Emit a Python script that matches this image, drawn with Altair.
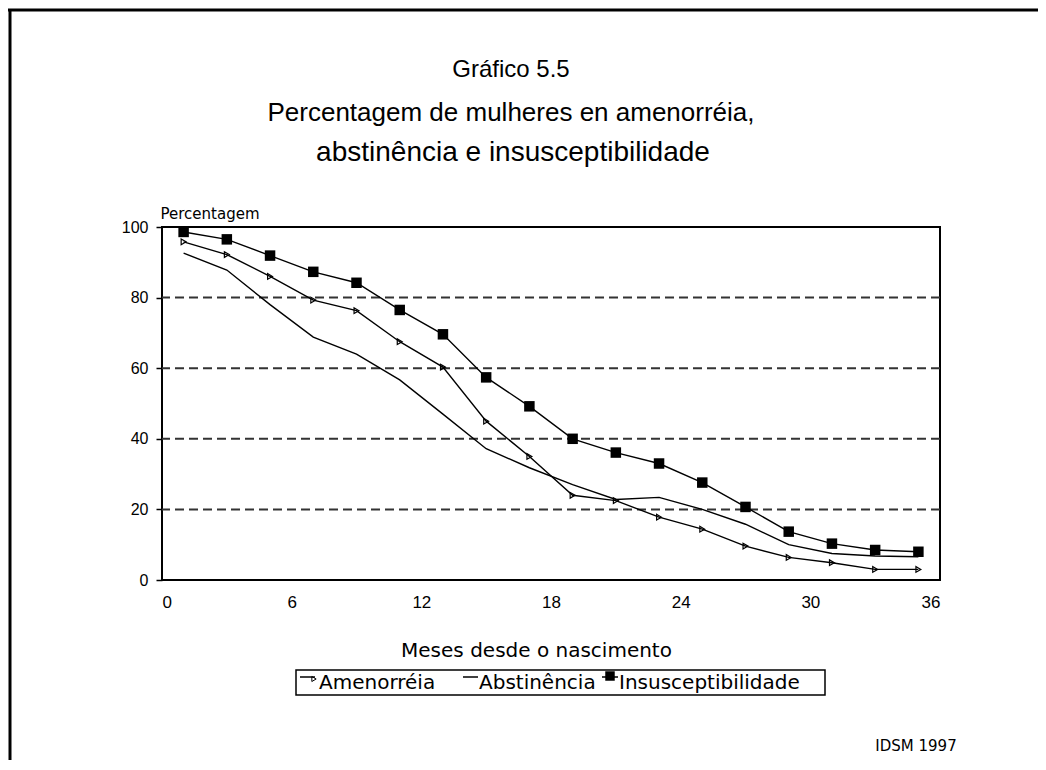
import altair as alt
import pandas as pd

FONT = "Liberation Sans"
SMALL = "DejaVu Sans"

months = [1, 3, 5, 7, 9, 11, 13, 15, 17, 19, 21, 23, 25, 27, 29, 31, 33, 35]
amenorreia = [95.8, 92.2, 86.0, 79.3, 76.3, 67.5, 60.3, 45.0, 35.0, 24.0, 22.5, 17.8, 14.4, 9.6, 6.4, 4.9, 3.0, 3.0]
abstinencia = [92.6, 87.8, 78.0, 68.8, 64.0, 56.7, 47.0, 37.2, 31.8, 27.0, 22.8, 23.4, 20.0, 15.8, 10.0, 7.5, 6.8, 6.6]
insusceptibilidade = [98.6, 96.5, 91.9, 87.3, 84.2, 76.5, 69.6, 57.4, 49.2, 40.0, 36.1, 33.0, 27.6, 20.7, 13.7, 10.3, 8.5, 8.0]

series_names = ["Amenorréia", "Abstinência", "Insusceptibilidade"]
x_ticks = [0, 6, 12, 18, 24, 30, 36]
y_ticks = [0, 20, 40, 60, 80, 100]
grid_vals = [20, 40, 60, 80]

title_lines = ["Gráfico 5.5", "Percentagem de mulheres en amenorréia,", "abstinência e insusceptibilidade"]
y_title = "Percentagem"
x_title = "Meses desde o nascimento"
source = "IDSM 1997"

rows = []
for name, vals in zip(series_names, [amenorreia, abstinencia, insusceptibilidade]):
    for m, v in zip(months, vals):
        rows.append({"mes": m, "pct": v, "serie": name})
df = pd.DataFrame(rows)
grid_df = pd.DataFrame({"v": grid_vals})
one = pd.DataFrame({"k": [0]})

W, H = 778, 353

xs = alt.Scale(domain=[0, 36], nice=False)
ys = alt.Scale(domain=[0, 100], nice=False)

x_enc = alt.X("mes:Q", scale=xs, axis=alt.Axis(
    values=x_ticks, ticks=False, domain=False, grid=False,
    labelFontSize=17, labelFont=FONT, labelColor="black", labelPadding=14,
    title=x_title, titleFont=SMALL, titleFontSize=20, titleFontWeight="normal",
    titleColor="black", titleX=374, titleY=70, titleBaseline="middle", titleAlign="center"))
y_enc = alt.Y("pct:Q", scale=ys, axis=alt.Axis(
    values=y_ticks, domain=False, grid=False, tickSize=6, tickColor="black", tickWidth=1.5,
    labelFontSize=16, labelFont=FONT, labelColor="black", labelPadding=8,
    title=y_title, titleFont=SMALL, titleFontSize=15, titleFontWeight="normal",
    titleColor="black", titleAngle=0, titleX=-2, titleY=-14, titleAlign="left",
    titleBaseline="middle"))

grid = alt.Chart(grid_df).mark_rule(color="#333", strokeWidth=2, strokeDash=[9, 5]).encode(
    y=alt.Y("v:Q", scale=ys))

lines = alt.Chart(df).mark_line(color="black", strokeWidth=1.4).encode(
    x=x_enc, y=y_enc, detail="serie:N")

sq = alt.Chart(df[df.serie == "Insusceptibilidade"]).mark_point(
    shape="square", filled=True, color="black", size=110, opacity=1).encode(
    x=alt.X("mes:Q", scale=xs), y=alt.Y("pct:Q", scale=ys))

tri = alt.Chart(df[df.serie == "Amenorréia"]).mark_point(
    shape="triangle-right", filled=False, color="black", size=32, strokeWidth=1.2, opacity=1).encode(
    x=alt.X("mes:Q", scale=xs), y=alt.Y("pct:Q", scale=ys))


def txt(s, x, y, size, align="center", font=FONT):
    return alt.Chart(one).mark_text(
        text=s, fontSize=size, font=font, align=align, baseline="middle", color="black"
    ).encode(x=alt.value(x), y=alt.value(y))


titles = [
    txt(title_lines[0], 349, -157, 24),
    txt(title_lines[1], 349, -114, 26),
    txt(title_lines[2], 351, -74, 28),
]

frame_top = alt.Chart(one).mark_rule(color="black", strokeWidth=3).encode(
    x=alt.value(-154), x2=alt.value(880), y=alt.value(-217))
frame_left = alt.Chart(one).mark_rule(color="black", strokeWidth=3).encode(
    x=alt.value(-152), y=alt.value(-218), y2=alt.value(540))

leg_box = alt.Chart(one).mark_rect(fill="white", stroke="black", strokeWidth=1.5).encode(
    x=alt.value(134), x2=alt.value(663), y=alt.value(443), y2=alt.value(468))
leg_am_line = alt.Chart(one).mark_rule(color="black", strokeWidth=1.5).encode(
    x=alt.value(138), x2=alt.value(153), y=alt.value(450))
leg_am_sym = alt.Chart(one).mark_point(shape="triangle-right", filled=False, color="black",
                                       size=25, strokeWidth=1, opacity=1).encode(
    x=alt.value(152), y=alt.value(452))
leg_ab_line = alt.Chart(one).mark_rule(color="black", strokeWidth=1.5).encode(
    x=alt.value(301), x2=alt.value(316), y=alt.value(450))
leg_in_line = alt.Chart(one).mark_rule(color="black", strokeWidth=1.5).encode(
    x=alt.value(440), x2=alt.value(456), y=alt.value(450))
leg_in_sym = alt.Chart(one).mark_point(shape="square", filled=True, color="black",
                                       size=90, opacity=1).encode(
    x=alt.value(448), y=alt.value(449))
leg_texts = [
    txt(series_names[0], 157, 456, 20, "left", SMALL),
    txt(series_names[1], 317, 456, 20, "left", SMALL),
    txt(series_names[2], 457, 456, 20, "left", SMALL),
]
src = txt(source, 754, 519, 15, "center", SMALL)

chart = alt.layer(
    grid, lines, tri, sq, *titles, frame_top, frame_left,
    leg_box, leg_am_line, leg_am_sym, leg_ab_line, leg_in_line, leg_in_sym, *leg_texts, src
).properties(
    width=W, height=H,
    autosize=alt.AutoSizeParams(type="none"),
    padding={"left": 154, "top": 219, "right": 98, "bottom": 180},
    background="white",
).configure_view(stroke="black", strokeWidth=2)

chart.save("out.html", embed_options={"renderer": "svg", "actions": False})
